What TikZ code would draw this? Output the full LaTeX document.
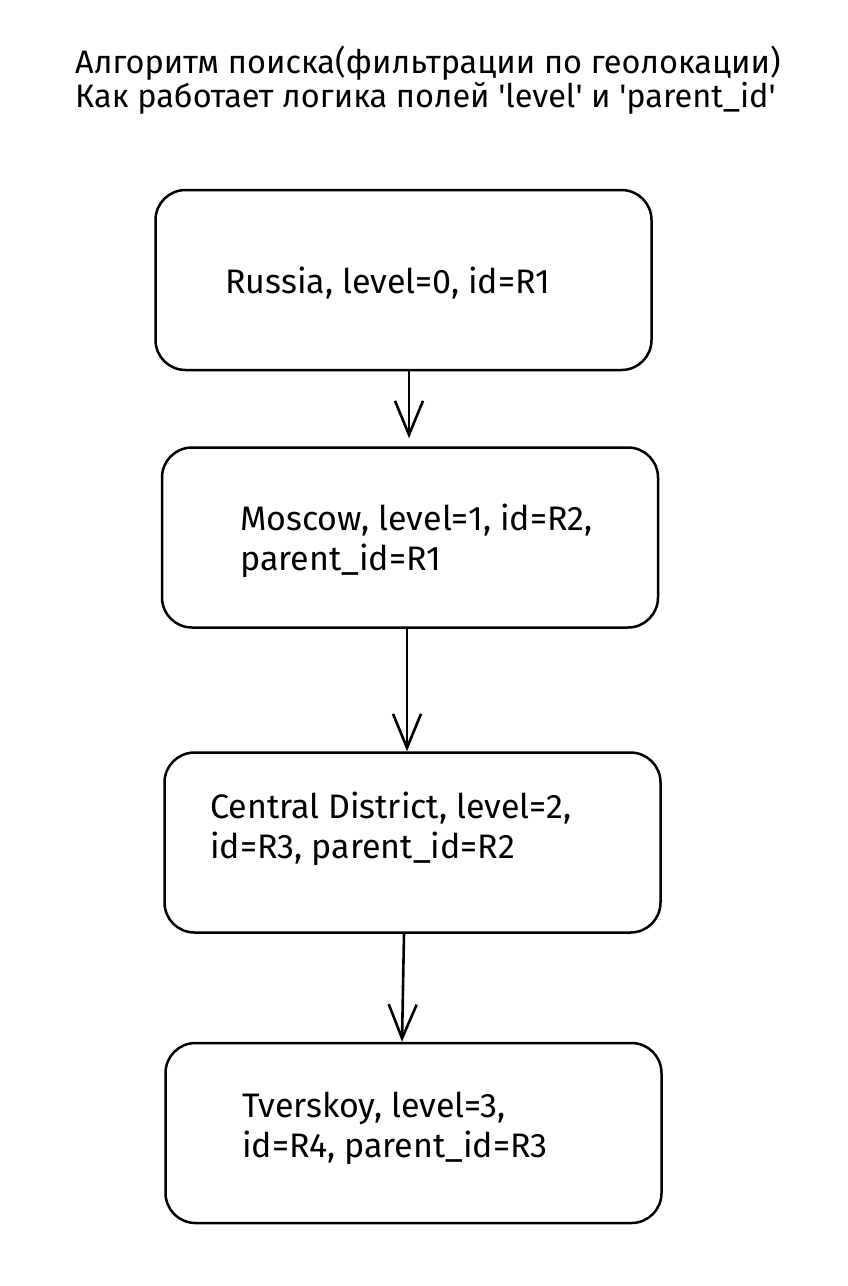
\documentclass[tikz,border=0pt]{standalone}
\usepackage{fontspec}
\setmainfont{Fira Sans}
\usetikzlibrary{arrows.meta}
\begin{document}
\begin{tikzpicture}
        [x=1pt,y=-1pt,
         box/.style={draw, rounded corners=30pt, line width=2.5pt, minimum width=496pt, minimum height=180pt},
         txt/.style={anchor=base west, align=left, inner sep=0pt, font=\fontsize{34}{40}\selectfont},
         arr/.style={line width=2.6pt, -{Straight Barb[length=34pt,width=28pt,line width=2.6pt]}}]
      \useasboundingbox (0,0) rectangle (848,1286);

      % title (base anchor = last line)
      \node[txt, font=\fontsize{32.5}{30.5}\selectfont] (title) at (75,107)
        {Алгоритм поиска(фильтрации по геолокации)\\Как работает логика полей \textquotesingle level\textquotesingle{} и \textquotesingle parent\_id\textquotesingle};

      % boxes
      \node[box] (b1) at (403.5,280) {};
      \node[box] (b2) at (410,537.5) {};
      \node[box] (b3) at (412.5,842.5) {};
      \node[box] (b4) at (413.5,1133) {};

      \node[txt] (t1) at (225,293) {Russia, level=0, id=R1};
      \node[txt] (t2) at (240,570) {Moscow, level=1, id=R2,\\parent\_id=R1};
      \node[txt] (t3) at (210,858) {Central District, level=2,\\id=R3, parent\_id=R2};
      \node[txt] (t4) at (242,1157) {Tverskoy, level=3,\\id=R4, parent\_id=R3};

      \foreach \from/\to/\sa/\sb/\gap in {b1/b2/5.5/-1/8, b2/b3/-3/-5.5/0, b3/b4/-8.5/-11.5/0}
        \draw[arr, shorten >=\gap pt] ([xshift=\sa pt]\from.south) -- ([xshift=\sb pt]\to.north);
    \end{tikzpicture}
\end{document}
